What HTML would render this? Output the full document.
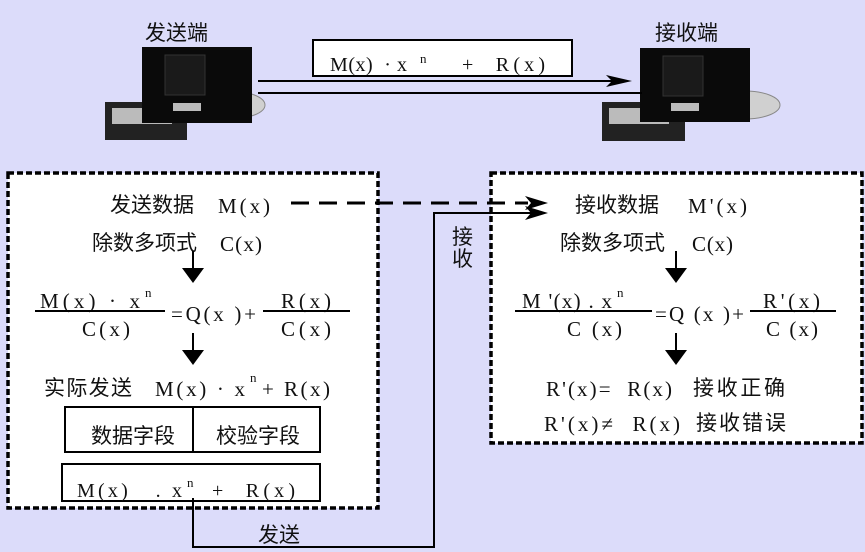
<!DOCTYPE html>
<html><head><meta charset="utf-8"><style>
html,body{margin:0;padding:0;background:#dcdcfa;}
svg{display:block;}
text{font-family:"Liberation Serif","Noto Serif CJK SC",serif;fill:#111;white-space:pre;}
.c{font-family:"Liberation Serif","Noto Sans CJK SC",sans-serif;}
</style></head><body>
<svg width="865" height="552" viewBox="0 0 865 552" xmlns="http://www.w3.org/2000/svg">
<rect width="865" height="552" fill="#dcdcfa"/>
<g>
<ellipse cx="230" cy="105" rx="35" ry="14" fill="#d0d0d0" stroke="#888"/>
<rect x="105" y="102" width="82" height="38" fill="#222"/>
<rect x="112" y="108" width="60" height="16" fill="#bbb"/>
<rect x="142" y="47" width="110" height="76" fill="#0a0a0a"/>
<rect x="165" y="55" width="40" height="40" fill="#1a1a1a" stroke="#333"/>
<rect x="173" y="103" width="28" height="8" fill="#bbb"/>
</g>
<g>
<ellipse cx="745" cy="105" rx="35" ry="14" fill="#d0d0d0" stroke="#888"/>
<rect x="602" y="102" width="83" height="39" fill="#222"/>
<rect x="609" y="108" width="60" height="16" fill="#bbb"/>
<rect x="640" y="48" width="110" height="74" fill="#0a0a0a"/>
<rect x="663" y="56" width="40" height="40" fill="#1a1a1a" stroke="#333"/>
<rect x="671" y="103" width="28" height="8" fill="#bbb"/>
</g>
<text x="145" y="40" font-size="21" class="c">发送端</text>
<text x="655" y="40" font-size="21" class="c">接收端</text>
<rect x="313" y="40" width="259" height="36" fill="#fff" stroke="#000" stroke-width="2"/>
<text x="330" y="71" font-size="20" textLength="77" lengthAdjust="spacing">M(x)  · x</text><text x="420" y="63" font-size="13">n</text><text x="462" y="71" font-size="20" textLength="83" lengthAdjust="spacing">+  R(x)</text>
<line x1="258" y1="81" x2="612" y2="81" stroke="#000" stroke-width="2"/>
<path d="M606,75 L632,81 L606,87 L612,81 z" fill="#000"/>
<line x1="258" y1="93" x2="642" y2="93" stroke="#000" stroke-width="2"/>
<rect x="8" y="173" width="370" height="335" fill="#fff" stroke="#000" stroke-width="3.5" stroke-dasharray="6,3"/>
<rect x="491" y="173" width="371" height="270" fill="#fff" stroke="#000" stroke-width="3.5" stroke-dasharray="6,3"/>
<line x1="291" y1="203" x2="528" y2="203" stroke="#000" stroke-width="3" stroke-dasharray="18,10"/>
<path d="M525,196 L548,203 L525,210 L531,203 z" fill="#000"/>
<polyline points="193,498 193,547 434,547 434,213 535,213" fill="none" stroke="#000" stroke-width="2"/>
<path d="M525,206 L548,213 L525,220 L531,213 z" fill="#000"/>
<text x="258" y="542" font-size="21" class="c">发送</text>
<text x="452" y="244" font-size="21" class="c">接</text>
<text x="452" y="266" font-size="21" class="c">收</text>
<!-- left -->
<text x="110" y="212" font-size="21" class="c">发送数据</text><text x="218" y="213" font-size="21" textLength="52" lengthAdjust="spacing">M(x)</text>
<text x="92" y="250" font-size="21" class="c">除数多项式</text><text x="220" y="251" font-size="21" textLength="42" lengthAdjust="spacing">C(x)</text>
<line x1="193" y1="251" x2="193" y2="268" stroke="#000" stroke-width="2"/><path d="M182,268 L204,268 L193,283 z" fill="#000"/>
<text x="40" y="308" font-size="21" textLength="100" lengthAdjust="spacing">M(x) · x</text><text x="145" y="297" font-size="13">n</text>
<line x1="35" y1="311" x2="165" y2="311" stroke="#000" stroke-width="2"/>
<text x="82" y="336" font-size="21" textLength="48" lengthAdjust="spacing">C(x)</text>
<text x="171" y="321" font-size="21" textLength="85" lengthAdjust="spacing">=Q(x )+</text>
<text x="281" y="308" font-size="21" textLength="50" lengthAdjust="spacing">R(x)</text>
<line x1="263" y1="311" x2="350" y2="311" stroke="#000" stroke-width="2"/>
<text x="281" y="336" font-size="21" textLength="50" lengthAdjust="spacing">C(x)</text>
<line x1="193" y1="333" x2="193" y2="350" stroke="#000" stroke-width="2"/><path d="M182,350 L204,350 L193,365 z" fill="#000"/>
<text x="44" y="395" font-size="21" class="c" textLength="88" lengthAdjust="spacing">实际发送</text><text x="155" y="396" font-size="21" textLength="90" lengthAdjust="spacing">M(x) · x</text><text x="250" y="382" font-size="13">n</text><text x="262" y="396" font-size="21" textLength="68" lengthAdjust="spacing">+ R(x)</text>
<rect x="65" y="407" width="255" height="45" fill="none" stroke="#000" stroke-width="2"/>
<line x1="193" y1="407" x2="193" y2="452" stroke="#000" stroke-width="2"/>
<text x="91" y="443" font-size="21" class="c">数据字段</text>
<text x="216" y="443" font-size="21" class="c">校验字段</text>
<rect x="62" y="464" width="258" height="37" fill="none" stroke="#000" stroke-width="2"/>
<text x="77" y="497" font-size="20" textLength="105" lengthAdjust="spacing">M(x)   . x</text><text x="187" y="487" font-size="13">n</text><text x="212" y="497" font-size="20" textLength="83" lengthAdjust="spacing">+  R(x)</text>
<!-- right -->
<text x="575" y="212" font-size="21" class="c">接收数据</text><text x="688" y="213" font-size="21" textLength="59" lengthAdjust="spacing">M'(x)</text>
<text x="560" y="250" font-size="21" class="c">除数多项式</text><text x="692" y="251" font-size="21" textLength="41" lengthAdjust="spacing">C(x)</text>
<line x1="676" y1="251" x2="676" y2="268" stroke="#000" stroke-width="2"/><path d="M665,268 L687,268 L676,283 z" fill="#000"/>
<text x="522" y="308" font-size="21" textLength="90" lengthAdjust="spacing">M '(x) . x</text><text x="617" y="297" font-size="13">n</text>
<line x1="515" y1="311" x2="652" y2="311" stroke="#000" stroke-width="2"/>
<text x="567" y="336" font-size="21" textLength="55" lengthAdjust="spacing">C (x)</text>
<text x="655" y="321" font-size="21" textLength="89" lengthAdjust="spacing">=Q (x )+</text>
<text x="763" y="308" font-size="21" textLength="57" lengthAdjust="spacing">R'(x)</text>
<line x1="750" y1="311" x2="836" y2="311" stroke="#000" stroke-width="2"/>
<text x="766" y="336" font-size="21" textLength="52" lengthAdjust="spacing">C (x)</text>
<line x1="676" y1="333" x2="676" y2="350" stroke="#000" stroke-width="2"/><path d="M665,350 L687,350 L676,365 z" fill="#000"/>
<text x="546" y="396" font-size="21" textLength="126" lengthAdjust="spacing">R'(x)=  R(x)</text><text x="693" y="395" font-size="21" class="c" textLength="92" lengthAdjust="spacing">接收正确</text>
<text x="544" y="431" font-size="21" textLength="136" lengthAdjust="spacing">R'(x)≠  R(x)</text><text x="696" y="430" font-size="21" class="c" textLength="90" lengthAdjust="spacing">接收错误</text>
</svg>
</body></html>
